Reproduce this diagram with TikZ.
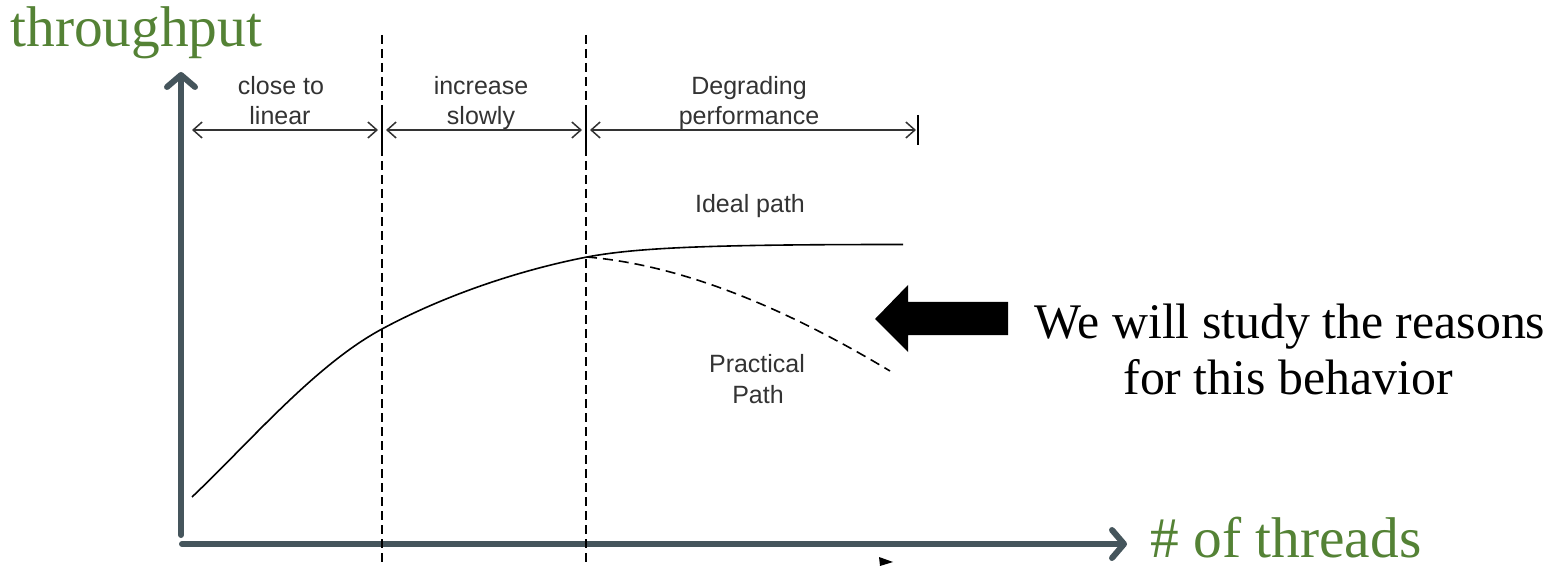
\documentclass[tikz,border=0pt]{standalone}
\usepackage{fontspec}
\setmainfont{Liberation Serif}
\newfontfamily\labelsans{Liberation Sans}
\usetikzlibrary{arrows.meta}

\definecolor{axisgray}{HTML}{45555C}
\definecolor{titlegreen}{HTML}{548235}
\definecolor{labelgray}{HTML}{333333}

\tikzset{
  axisline/.style={draw=axisgray, line width=3pt, line cap=round,
    -{Straight Barb[length=6pt,width=14pt,round]}},
  axistitle/.style={inner sep=0pt, text=titlegreen, font=\fontsize{28.7}{34}\selectfont},
  phaseline/.style={draw=black, line width=1pt, dash pattern=on 4.5pt off 2.5pt},
  spanarrow/.style={draw=black!80, line width=0.75pt,
    {Straight Barb[length=4.5pt,width=8pt]}-{Straight Barb[length=4.5pt,width=8pt]}},
  spantick/.style={draw=black, line width=1pt},
  smalllabel/.style={inner sep=0pt, text=labelgray, font=\labelsans\fontsize{12.5}{15}\selectfont},
  idealcurve/.style={draw=black, line width=0.8pt},
  practicalcurve/.style={draw=black, line width=0.8pt, dash pattern=on 5pt off 3pt},
  notetext/.style={inner sep=0pt, text=black, font=\fontsize{24.9}{28}\selectfont},
}

\begin{document}
\begin{tikzpicture}[x=0.5pt, y=-0.5pt]
\useasboundingbox (0,0) rectangle (1566,566);

% axes
\coordinate (ybot) at (181,535);
\coordinate (ytop) at (181,72);
\coordinate (xleft) at (182,544);
\coordinate (xright) at (1127,544);
\draw[axisline] (ybot) -- (ytop);
\draw[axisline] (xleft) -- (xright);
\node[axistitle, anchor=base west] (ylabel) at (10,47) {throughput};
\node[axistitle, anchor=base west, text depth=0pt] (xlabel) at (1150,557) {\# of threads};

% phase boundaries
\coordinate (b1top) at (382,35);
\coordinate (b1bot) at (382,566);
\coordinate (b2top) at (586,35);
\coordinate (b2bot) at (586,566);
\draw[phaseline] (b1top) -- (b1bot);
\draw[phaseline] (b2top) -- (b2bot);

% span arrows with end ticks
\coordinate (s0) at (192,130);
\coordinate (s1l) at (378,130);
\coordinate (s1r) at (386,130);
\coordinate (s2l) at (582,130);
\coordinate (s2r) at (590,130);
\coordinate (s3) at (916,130);
\coordinate (t1a) at (382,113); \coordinate (t1b) at (382,148);
\coordinate (t2a) at (586,113); \coordinate (t2b) at (586,148);
\coordinate (t3a) at (918,115); \coordinate (t3b) at (918,145);
\draw[spanarrow] (s0) -- (s1l);
\draw[spanarrow] (s1r) -- (s2l);
\draw[spanarrow] (s2r) -- (s3);
\draw[spantick] (t1a) -- (t1b);
\draw[spantick] (t2a) -- (t2b);
\draw[spantick] (t3a) -- (t3b);

% phase labels
\node[smalllabel, anchor=base] (p1a) at (281,95) {close to};
\node[smalllabel, anchor=base] (p1b) at (280,125) {linear};
\node[smalllabel, anchor=base] (p2a) at (481,95) {increase};
\node[smalllabel, anchor=base] (p2b) at (481,125) {slowly};
\node[smalllabel, anchor=base] (p3a) at (749,95) {Degrading};
\node[smalllabel, anchor=base] (p3b) at (749,125) {performance};

% throughput curves
\coordinate (start) at (192,497);
\coordinate (mid) at (382,329);
\coordinate (knee) at (587,257);
\coordinate (idealend) at (903,244.5);
\coordinate (pracend) at (890,371);
\draw[idealcurve] (start) .. controls (250,442) and (315,365) .. (mid)
  .. controls (445,295) and (520,270) .. (knee)
  .. controls (640,247) and (720,244.5) .. (idealend);
\draw[practicalcurve] (knee) .. controls (680,265) and (780,305) .. (pracend);
\node[smalllabel, anchor=base] (ideal) at (750,213) {Ideal path};
\node[smalllabel, anchor=base] (prac1) at (757,372) {Practical};
\node[smalllabel, anchor=base] (prac2) at (758,403) {Path};

% clipped tip below the axis
\fill[black] (879,557) -- (893,562) -- (880,566) -- cycle;

% pointer and note
\fill[black] (875,319) -- (908,285) -- (908,302) -- (1008,302)
  -- (1008,335) -- (908,335) -- (908,352) -- cycle;
\node[notetext, anchor=base] (note1) at (1290,338) {We will study the reasons};
\node[notetext, anchor=base] (note2) at (1288,394) {for this behavior};
\end{tikzpicture}
\end{document}
